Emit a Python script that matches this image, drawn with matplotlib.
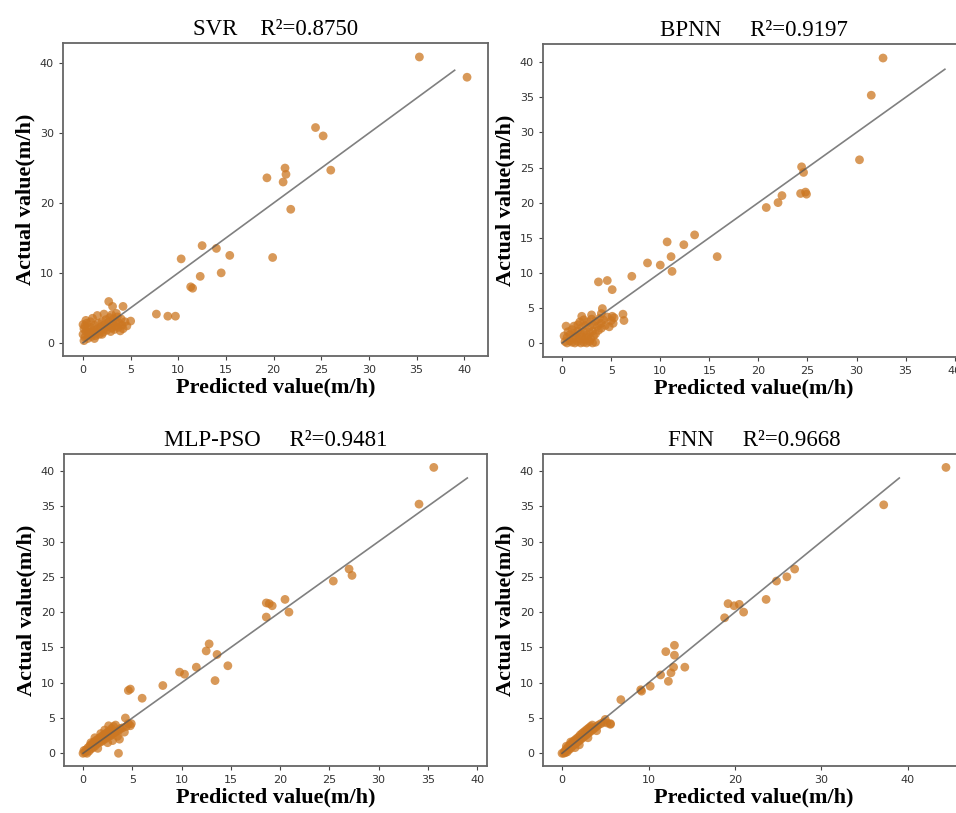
import matplotlib.pyplot as plt
import numpy as np

plt.rcParams['axes.unicode_minus'] = False

# ---- SVR ----
svr_pred = [35.3, 40.3, 24.4, 25.2, 26.0, 19.3, 21.2, 21.3, 21.0, 21.8, 12.5, 14.0, 15.4, 10.3, 19.9,
            12.3, 14.5, 11.3, 11.5, 7.7, 8.9, 9.7, 2.7, 3.1, 4.2, 5.0,
            0.1, 0.2, 0.0, 0.3, 0.1, 0.2, 0.4, 0.0, 0.5, 0.6, 0.7, 0.5, 0.8, 0.9, 1.0, 1.1, 1.2, 1.3,
            1.4, 1.5, 1.6, 1.7, 1.8, 1.9, 2.0, 2.1, 2.2, 2.3, 2.4, 2.5, 2.6, 2.7, 2.8, 2.9, 3.0, 3.1,
            3.2, 3.3, 3.4, 3.5, 3.6, 3.7, 3.8, 3.9, 4.0, 4.1, 4.2, 4.4, 4.6, 1.0, 1.5, 2.2, 3.0, 3.5,
            0.3, 0.8, 2.0, 1.2]
svr_actual = [40.9, 38.0, 30.8, 29.6, 24.7, 23.6, 25.0, 24.1, 23.0, 19.1, 13.9, 13.5, 12.5, 12.0, 12.2,
              9.5, 10.0, 8.0, 7.8, 4.1, 3.8, 3.8, 5.9, 5.2, 5.2, 3.1,
              0.3, 0.8, 1.2, 1.6, 2.0, 2.4, 2.8, 2.6, 0.6, 1.1, 1.5, 1.9, 2.2, 0.9, 1.3, 1.8, 2.5, 1.0,
              1.5, 2.0, 2.8, 1.2, 1.7, 2.3, 3.0, 1.5, 2.0, 2.6, 3.3, 1.8, 2.3, 3.0, 3.6, 1.6, 2.1, 2.7,
              3.4, 1.9, 2.4, 3.0, 3.7, 2.2, 2.8, 1.7, 3.4, 2.5, 2.0, 3.0, 2.4, 3.5, 3.9, 4.1, 4.0, 4.2,
              3.2, 3.0, 1.2, 0.6]

# ---- BPNN ----
bpnn_pred = [32.7, 31.5, 30.3, 24.4, 24.6, 24.3, 24.8, 24.9, 22.4, 22.0, 20.8, 13.5, 10.7, 12.4, 15.8,
             11.1, 8.7, 10.0, 11.2, 7.1, 3.7, 4.6, 5.1, 4.1, 6.2, 6.3, 5.1, 0.4,
             0.3, 0.5, 0.8, 1.0, 1.3, 1.6, 1.9, 2.2, 2.5, 2.8, 3.1, 3.4, 0.5, 0.8, 1.1, 1.4, 1.7, 2.0,
             2.3, 2.6, 2.9, 3.2, 0.6, 1.0, 1.3, 1.6, 1.9, 2.2, 2.5, 2.8, 3.1, 3.4, 3.7, 4.0, 1.2, 1.6,
             2.0, 2.4, 2.8, 3.2, 3.6, 4.0, 4.4, 4.8, 5.2, 1.8, 2.2, 2.6, 3.0, 3.4, 3.8, 4.2, 4.6, 5.0,
             5.3, 2.0, 3.0, 4.0, 0.2]
bpnn_actual = [40.6, 35.3, 26.1, 25.1, 24.3, 21.3, 21.5, 21.2, 21.0, 20.0, 19.3, 15.4, 14.4, 14.0, 12.3,
               12.3, 11.4, 11.1, 10.2, 9.5, 8.7, 8.9, 7.6, 4.9, 4.1, 3.2, 3.8, 2.4,
               0.2, 0.0, 0.3, 0.1, 0.0, 0.2, 0.0, 0.1, 0.0, 0.2, 0.0, 0.1, 0.8, 1.2, 0.7, 1.0, 0.6, 0.9,
               0.5, 0.8, 0.6, 1.0, 1.6, 1.9, 1.4, 1.7, 1.3, 1.6, 1.2, 1.5, 1.7, 1.3, 1.8, 2.1, 2.4, 2.6,
               2.2, 2.5, 2.3, 2.6, 2.4, 2.8, 2.5, 2.3, 2.8, 3.0, 3.3, 3.0, 3.4, 3.1, 3.5, 3.3, 3.7, 3.2,
               3.6, 3.8, 4.0, 4.2, 1.0]

# ---- MLP-PSO ----
mlp_pred = [35.6, 34.1, 27.0, 27.3, 25.4, 18.6, 18.9, 19.2, 20.5, 20.9, 18.6, 12.8, 12.5, 13.6, 14.7,
            11.5, 9.8, 10.3, 13.4, 8.1, 4.6, 4.8, 6.0, 3.6, 4.3, 4.9,
            0.0, 0.2, 0.4, 0.1, 0.3, 0.6, 0.5, 0.8, 0.7, 1.0, 0.9, 1.2, 1.1, 1.4, 1.3, 1.6, 1.5, 1.8,
            1.7, 2.0, 1.9, 2.2, 2.1, 2.4, 2.3, 2.6, 2.5, 2.8, 2.7, 3.0, 2.9, 3.2, 3.1, 3.4, 3.3, 3.6,
            3.5, 3.8, 3.7, 4.0, 4.2, 4.4, 4.6, 4.8, 3.0, 2.5, 1.5, 0.8, 1.2, 1.8, 2.2, 2.6]
mlp_actual = [40.5, 35.3, 26.1, 25.2, 24.4, 21.3, 21.2, 20.9, 21.8, 20.0, 19.3, 15.5, 14.5, 14.0, 12.4,
              12.2, 11.5, 11.2, 10.3, 9.6, 8.9, 9.1, 7.8, 0.0, 5.0, 4.2,
              0.0, 0.1, 0.0, 0.4, 0.5, 0.3, 0.8, 0.6, 1.1, 0.8, 1.3, 1.0, 1.6, 1.3, 1.8, 1.5, 2.0, 1.6,
              2.2, 1.8, 2.4, 2.0, 2.6, 2.2, 2.8, 2.4, 3.0, 2.5, 3.2, 2.7, 3.5, 2.9, 3.8, 3.1, 4.0, 3.2,
              2.4, 3.5, 2.0, 3.6, 3.0, 3.8, 4.2, 3.9, 1.8, 1.5, 0.7, 1.5, 2.2, 2.8, 3.3, 3.9]

# ---- FNN ----
fnn_pred = [44.4, 37.2, 26.9, 26.0, 24.8, 23.6, 19.2, 19.9, 20.5, 21.0, 18.8, 13.0, 12.0, 13.0, 14.2,
            12.9, 11.4, 12.6, 12.3, 9.2, 9.1, 10.2, 6.8, 5.6,
            0.0, 0.2, 0.4, 0.3, 0.6, 0.5, 0.8, 0.7, 1.0, 0.9, 1.2, 1.1, 1.4, 1.3, 1.6, 1.5, 1.8, 1.7,
            2.0, 1.9, 2.2, 2.1, 2.4, 2.3, 2.6, 2.5, 2.8, 2.7, 3.0, 2.9, 3.2, 3.1, 3.4, 3.3, 3.6, 3.5,
            3.8, 4.0, 4.2, 4.5, 4.8, 5.2, 5.6, 5.0, 1.0, 2.0, 3.0, 4.0, 0.5, 1.5]
fnn_actual = [40.5, 35.2, 26.1, 25.0, 24.4, 21.8, 21.2, 20.9, 21.1, 20.0, 19.2, 15.3, 14.4, 13.9, 12.2,
              12.2, 11.1, 11.4, 10.2, 8.8, 9.0, 9.5, 7.6, 4.1,
              0.0, 0.0, 0.1, 0.3, 0.2, 0.6, 0.5, 0.9, 0.7, 1.2, 1.0, 1.4, 1.2, 1.7, 1.4, 1.9, 1.6, 2.1,
              1.8, 2.3, 2.0, 2.6, 2.2, 2.8, 2.4, 3.0, 2.6, 3.2, 2.8, 3.4, 3.0, 3.6, 3.2, 3.8, 3.4, 4.0,
              3.6, 3.8, 4.0, 4.2, 4.4, 4.3, 4.2, 4.8, 1.6, 1.2, 2.2, 3.2, 1.0, 0.8]

titles = ['SVR    R²=0.8750', 'BPNN     R²=0.9197', 'MLP-PSO     R²=0.9481', 'FNN     R²=0.9668']
preds = [svr_pred, bpnn_pred, mlp_pred, fnn_pred]
actuals = [svr_actual, bpnn_actual, mlp_actual, fnn_actual]
ref_line = [0, 39]

fig = plt.figure(figsize=(9.56, 8.13), dpi=100)
W, H = 956, 813
# axes boxes in pixels: left, top, right, bottom (right column runs past the edge, as in the original)
boxes = [(63, 43, 488, 356), (543, 44, 964, 357), (64, 454, 487, 766), (543, 454, 965, 766)]
xlims = [(-2.1, 42.5), (-1.95, 40.95), (-1.93, 41.0), (-2.2, 46.6)]
ylims = [(-1.9, 42.9), (-2.0, 42.6), (-1.8, 42.4), (-1.8, 42.4)]
xticks = [np.arange(0, 41, 5), np.arange(0, 41, 5), np.arange(0, 41, 5), np.arange(0, 41, 10)]
yticks = [np.arange(0, 41, 10), np.arange(0, 41, 5), np.arange(0, 41, 5), np.arange(0, 41, 5)]

serif = 'Liberation Serif'

for i in range(4):
    l, t, r, b = boxes[i]
    ax = fig.add_axes([l / W, 1 - b / H, (r - l) / W, (b - t) / H])
    ax.scatter(preds[i], actuals[i], s=40, color='#cc7722', alpha=0.75, edgecolors='none', zorder=2)
    ax.plot(ref_line, ref_line, color='#555555', alpha=0.75, linewidth=1.2, zorder=3)
    ax.set_xlim(xlims[i])
    ax.set_ylim(ylims[i])
    ax.set_xticks(xticks[i])
    ax.set_yticks(yticks[i])
    ax.tick_params(labelsize=8, length=3, color='#444444', labelcolor='#333333')
    for sp in ax.spines.values():
        sp.set_color('#666666')
        sp.set_linewidth(1.3)
    ax.set_title(titles[i], fontsize=16.5, family=serif, pad=6)
    ax.set_xlabel('Predicted value(m/h)', fontsize=16, family=serif, fontweight='bold', labelpad=2)
    ax.set_ylabel('Actual value(m/h)', fontsize=16, family=serif, fontweight='bold', labelpad=3)

plt.savefig('out.png', dpi=100)
